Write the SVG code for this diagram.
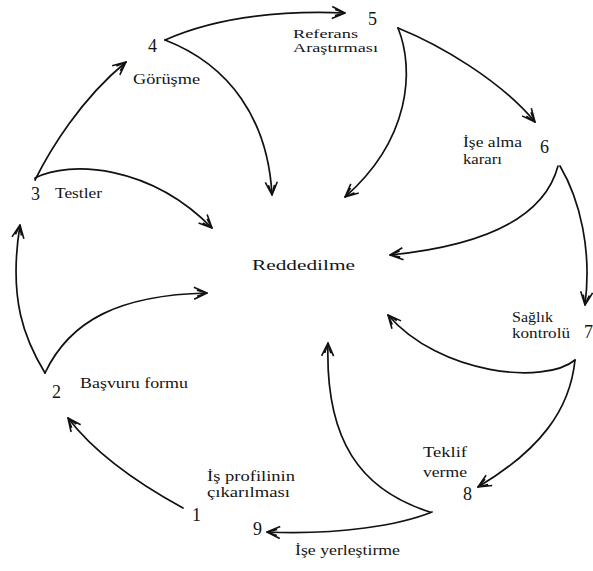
<svg xmlns="http://www.w3.org/2000/svg" width="593" height="571" viewBox="0 0 593 571">
<style>
text{font-family:"Liberation Serif","Times New Roman",serif;fill:#151515}
.lbl{font-size:14px}
.sm{font-size:13px}
.num{font-size:18px}
.main{font-size:15px}
.c{fill:none;stroke:#111;stroke-width:1.7;stroke-linecap:round}
</style>
<defs>
<marker id="ah" markerUnits="userSpaceOnUse" markerWidth="16" markerHeight="14" refX="13" refY="6" orient="auto" overflow="visible">
<path d="M0,0 L13,6 L0,12 M3,3 L13,6 L3,9" fill="none" stroke="#111" stroke-width="1.6" stroke-linejoin="round"/>
</marker>
</defs>
<rect width="593" height="571" fill="#fff"/>
<g id="connectors">
<path class="c" marker-end="url(#ah)" d="M183,508 C150,490 100,460 68,418"/>
<path class="c" marker-end="url(#ah)" d="M45,373 C25,340 8,300 20,225"/>
<path class="c" marker-end="url(#ah)" d="M45,373 C70,320 120,295 207,293"/>
<path class="c" marker-end="url(#ah)" d="M35,180 C50,150 80,100 126,62"/>
<path class="c" marker-end="url(#ah)" d="M35,178 C70,160 150,165 212,228"/>
<path class="c" marker-end="url(#ah)" d="M165,40 C210,20 270,10 345,13"/>
<path class="c" marker-end="url(#ah)" d="M165,40 C230,65 268,120 272,195"/>
<path class="c" marker-end="url(#ah)" d="M398,28 C440,45 500,80 535,122"/>
<path class="c" marker-end="url(#ah)" d="M398,28 C415,70 410,140 345,197"/>
<path class="c" marker-end="url(#ah)" d="M560,166 C580,200 592,250 585,305"/>
<path class="c" marker-end="url(#ah)" d="M558,166 C545,215 490,245 390,255"/>
<path class="c" marker-end="url(#ah)" d="M575,360 C570,410 540,450 478,487"/>
<path class="c" marker-end="url(#ah)" d="M575,360 C545,385 440,375 388,315"/>
<path class="c" marker-end="url(#ah)" d="M430,512 C360,490 325,440 328,343"/>
<path class="c" marker-end="url(#ah)" d="M432,512 C400,525 340,535 267,532"/>
</g>
<g id="node-reject"><text class="main" x="252" y="270" textLength="103" lengthAdjust="spacingAndGlyphs">Reddedilme</text></g>
<g id="node-1">
<text class="num" x="192" y="521">1</text>
<text class="lbl" x="207" y="481" textLength="88" lengthAdjust="spacingAndGlyphs">İş profilinin</text>
<text class="lbl" x="207" y="497" textLength="83" lengthAdjust="spacingAndGlyphs">çıkarılması</text>
</g>
<g id="node-2">
<text class="num" x="52" y="398">2</text>
<text class="lbl" x="80" y="388" textLength="108" lengthAdjust="spacingAndGlyphs">Başvuru formu</text>
</g>
<g id="node-3">
<text class="num" x="31" y="200">3</text>
<text class="lbl" x="55" y="198" textLength="47" lengthAdjust="spacingAndGlyphs">Testler</text>
</g>
<g id="node-4">
<text class="num" x="148" y="52">4</text>
<text class="lbl" x="133" y="84" textLength="67" lengthAdjust="spacingAndGlyphs">Görüşme</text>
</g>
<g id="node-5">
<text class="num" x="368" y="25">5</text>
<text class="sm" x="293" y="38" textLength="65" lengthAdjust="spacingAndGlyphs">Referans</text>
<text class="sm" x="293" y="52" textLength="85" lengthAdjust="spacingAndGlyphs">Araştırması</text>
</g>
<g id="node-6">
<text class="num" x="540" y="153">6</text>
<text class="lbl" x="463" y="147" textLength="59" lengthAdjust="spacingAndGlyphs">İşe alma</text>
<text class="lbl" x="463" y="164" textLength="39" lengthAdjust="spacingAndGlyphs">kararı</text>
</g>
<g id="node-7">
<text class="num" x="584" y="338">7</text>
<text class="lbl" x="512" y="322" textLength="41" lengthAdjust="spacingAndGlyphs">Sağlık</text>
<text class="lbl" x="512" y="338" textLength="58" lengthAdjust="spacingAndGlyphs">kontrolü</text>
</g>
<g id="node-8">
<text class="num" x="463" y="500">8</text>
<text class="lbl" x="423" y="457" textLength="44" lengthAdjust="spacingAndGlyphs">Teklif</text>
<text class="lbl" x="423" y="477" textLength="44" lengthAdjust="spacingAndGlyphs">verme</text>
</g>
<g id="node-9">
<text class="num" x="253" y="535">9</text>
<text class="lbl" x="295" y="555" textLength="105" lengthAdjust="spacingAndGlyphs">İşe yerleştirme</text>
</g>
</svg>
